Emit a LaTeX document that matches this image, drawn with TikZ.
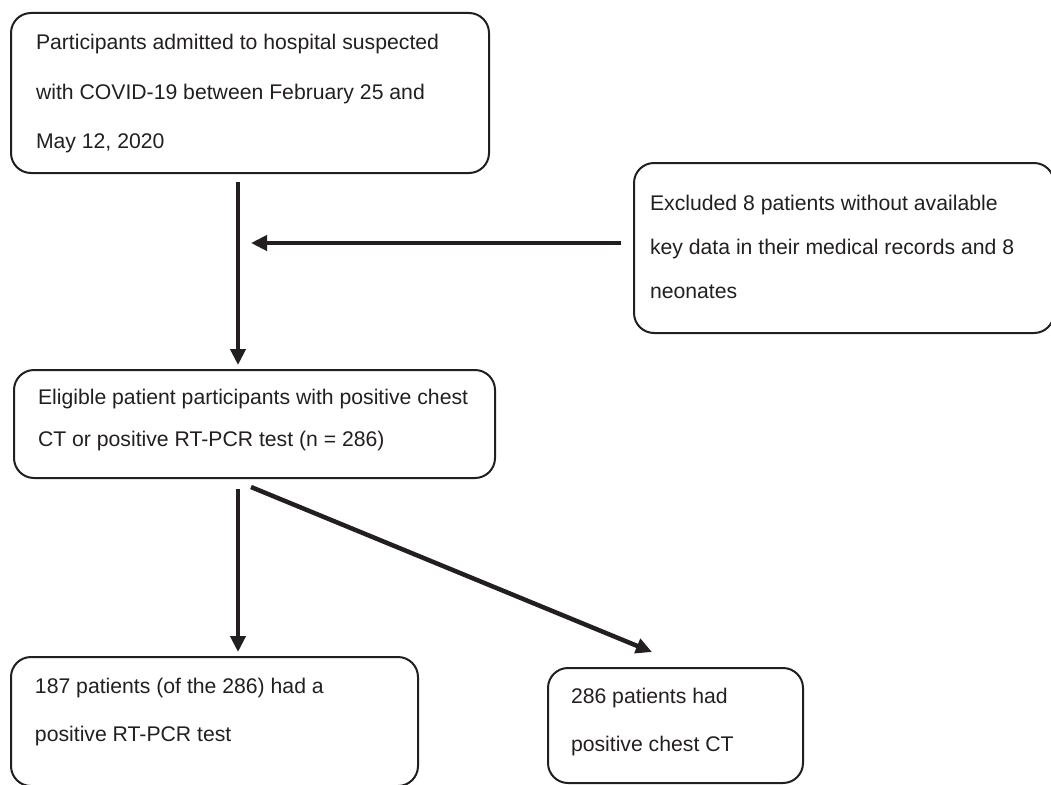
\documentclass[tikz,border=0pt]{standalone}
\usepackage{fontspec}
\setmainfont{Liberation Sans}
\usetikzlibrary{arrows.meta}
\definecolor{ink}{HTML}{231F20}
% #1 width, #2 height, #3 left pad, #4 first baseline offset, #5 line spacing, #6 text
\newcommand{\boxtxt}[6]{\parbox[c][#2][t]{#1}{\fontsize{21.2pt}{#5}\selectfont\raggedright\setlength{\leftskip}{#3}\lineskiplimit=-1000pt\vrule height #4 depth 0pt width 0pt#6}}
\tikzset{
  flowbox/.style={draw=ink, text=ink, line width=2pt, rounded corners=20pt, inner sep=0pt, anchor=north west},
  flowarrow/.style={draw=ink, line width=4.5pt, -{Triangle[length=16pt,width=15pt]}}
}
\begin{document}
\begin{tikzpicture}[x=1pt,y=-1pt]
\useasboundingbox (0,0) rectangle (1051,784);
\node[flowbox] (b1) at (10,12) {\boxtxt{478pt}{160pt}{25pt}{37pt}{49pt}{Participants admitted to hospital suspected\\with COVID-19 between February 25 and\\May 12, 2020}};
\node[flowbox] (b2) at (633,162) {\boxtxt{420pt}{170pt}{16pt}{47pt}{44pt}{Excluded 8 patients without available\\key data in their medical records and 8\\neonates}};
\node[flowbox] (b3) at (13,369) {\boxtxt{481pt}{108pt}{24pt}{34pt}{42pt}{Eligible patient participants with positive chest\\CT or positive RT-PCR test (n = 286)}};
\node[flowbox] (b4) at (10,656) {\boxtxt{407pt}{129pt}{24pt}{36pt}{48pt}{187 patients (of the 286) had a\\positive RT-PCR test}};
\node[flowbox] (b5) at (547,667) {\boxtxt{255pt}{115pt}{23pt}{35pt}{48pt}{286 patients had\\positive chest CT}};
\coordinate (ax) at (238,0);
\coordinate (j) at (238,243);
\coordinate (d1) at (251,487);
\coordinate (d2) at (652,652);
\draw[flowarrow, shorten <=8pt, shorten >=4pt] (b1.south -| ax) -- (b3.north -| ax);
\draw[flowarrow, shorten <=12pt, shorten >=13pt] (b2.west |- j) -- (j);
\draw[flowarrow, shorten <=10pt, shorten >=4pt] (b3.south -| ax) -- (b4.north -| ax);
\draw[flowarrow] (d1) -- (d2);
\end{tikzpicture}
\end{document}
